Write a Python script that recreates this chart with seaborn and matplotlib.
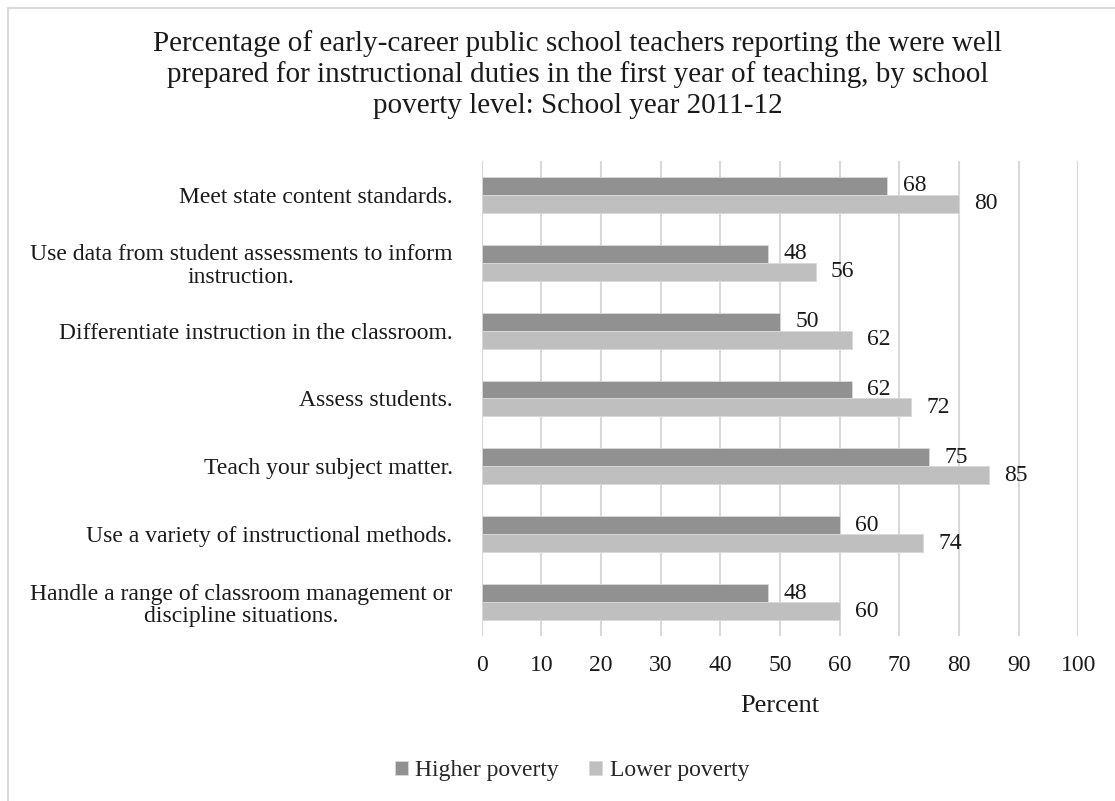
import numpy as np
import pandas as pd
import matplotlib
matplotlib.use("Agg")
import matplotlib.pyplot as plt
from matplotlib.lines import Line2D
import seaborn as sns

# data
categories = [
    "Meet state content standards.",
    "Use data from student assessments to inform\ninstruction.",
    "Differentiate instruction in the classroom.",
    "Assess students.",
    "Teach your subject matter.",
    "Use a variety of instructional methods.",
    "Handle a range of classroom management or\ndiscipline situations.",
]
higher_poverty = [68, 48, 50, 62, 75, 60, 48]
lower_poverty = [80, 56, 62, 72, 85, 74, 60]
series_names = ["Higher poverty", "Lower poverty"]
x_ticks = list(range(0, 101, 10))

title = ("Percentage of early-career public school teachers reporting the were well\n"
         "prepared for instructional duties in the first year of teaching, by school\n"
         "poverty level: School year 2011-12")

df = pd.DataFrame({
    "category": categories * 2,
    "value": higher_poverty + lower_poverty,
    "series": [series_names[0]] * len(categories) + [series_names[1]] * len(categories),
})

sns.set_theme(style="white")
plt.rcParams['font.family'] = ['Liberation Serif', 'DejaVu Serif']

fig = plt.figure(figsize=(11.15, 8.01), dpi=100)
ax = fig.add_axes([0.432, 0.206, 0.535, 0.593])

palette = {series_names[0]: "#919191", series_names[1]: "#bfbfbf"}
sns.barplot(data=df, y="category", x="value", hue="series", palette=palette,
            orient="h", width=0.53, saturation=1, edgecolor="#d9d9d9", linewidth=0.6,
            ax=ax, legend=True)

for cont in ax.containers:
    ax.bar_label(cont, fmt="%g", padding=11, fontsize=17, color="#1a1a1a")

ax.set_xlim(0, 100)
ax.set_xticks(x_ticks)
ax.xaxis.grid(True, color="#d9d9d9", linewidth=1.5)
ax.set_axisbelow(True)
for s in ax.spines.values():
    s.set_visible(False)
ax.tick_params(axis="x", length=0, pad=13.5, labelsize=17, labelcolor="#1a1a1a")
ax.tick_params(axis="y", length=0, pad=21, labelsize=17, labelcolor="#1a1a1a")
for lbl in ax.get_yticklabels():
    lbl.set_multialignment("center")
    lbl.set_linespacing(1.12)
ax.set_ylabel("")
ax.set_xlabel("Percent", fontsize=19, color="#1a1a1a", labelpad=14)

fig.text(0.518, 0.963, title, ha="center", va="top", fontsize=21, color="#1a1a1a",
         linespacing=1.23)

handles, labels = ax.get_legend_handles_labels()
ax.legend_.remove()
fig.legend(handles, labels, loc="center", bbox_to_anchor=(0.513, 0.038), ncol=2,
           frameon=False, fontsize=17, handlelength=0.55, handleheight=0.55,
           handletextpad=0.3, columnspacing=1.3)

# outer chart border (partly cut off like the reference)
fig.add_artist(Line2D([8 / 1115, 8 / 1115], [0, 1 - 8 / 801], color="#d9d9d9", lw=1.5,
                      transform=fig.transFigure))
fig.add_artist(Line2D([8 / 1115, 1], [1 - 8 / 801, 1 - 8 / 801], color="#d9d9d9", lw=1.5,
                      transform=fig.transFigure))

fig.savefig("out.png", dpi=100)
